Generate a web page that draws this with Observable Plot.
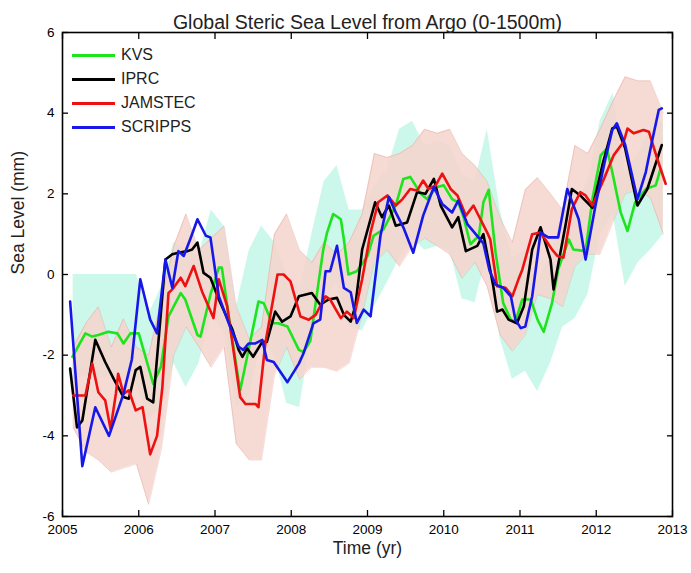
<!DOCTYPE html>
<html>
<head>
<meta charset="utf-8">
<script src="https://cdn.jsdelivr.net/npm/d3@7"></script>
<script src="https://cdn.jsdelivr.net/npm/@observablehq/plot@0.6"></script>
<style>
  html, body { margin: 0; padding: 0; background: #fff; }
  #wrap { position: relative; width: 691px; height: 573px; font-family: "Liberation Sans", Arial, sans-serif; }
  #legend { position: absolute; left: 72px; top: 43px; }
  .row { display: flex; align-items: center; height: 24px; font-size: 16px; color: #222; }
  .sw { width: 43px; height: 3px; margin-right: 6px; }
</style>
</head>
<body>
<div id="wrap"><div id="legend"></div></div>
<script>
// ---- text ----
const titleText = "Global Steric Sea Level from Argo (0-1500m)";
const xLabel = "Time (yr)";
const yLabel = "Sea Level (mm)";
const xTicks = [2005, 2006, 2007, 2008, 2009, 2010, 2011, 2012, 2013];
const yTicks = [-6, -4, -2, 0, 2, 4, 6];

// ---- series (vertices) ----
const seriesNames = ["KVS", "IPRC", "JAMSTEC", "SCRIPPS"];
const seriesColors = ["#1ee41e", "#000000", "#ee1111", "#1717e8"];

const kvsTime = [2005.13,2005.30,2005.39,2005.47,2005.60,2005.72,2005.80,2005.89,2006.00,2006.19,2006.29,2006.39,2006.55,2006.61,2006.77,2006.81,2006.94,2007.05,2007.09,2007.18,2007.33,2007.44,2007.57,2007.64,2007.75,2007.83,2007.95,2008.10,2008.16,2008.25,2008.36,2008.42,2008.47,2008.55,2008.65,2008.69,2008.75,2008.86,2009.00,2009.08,2009.21,2009.37,2009.47,2009.56,2009.70,2009.78,2009.91,2010.00,2010.11,2010.19,2010.26,2010.35,2010.46,2010.52,2010.59,2010.68,2010.78,2010.88,2010.94,2011.03,2011.14,2011.23,2011.31,2011.42,2011.50,2011.64,2011.70,2011.86,2011.95,2012.06,2012.14,2012.21,2012.32,2012.41,2012.51,2012.65,2012.78,2012.84];
const kvsValue = [-2.04,-1.46,-1.54,-1.5,-1.42,-1.46,-1.71,-1.46,-1.46,-2.71,-2.29,-1.04,-0.46,-0.62,-1.5,-1.54,-0.5,0.17,0.17,-1.04,-2.87,-1.87,-0.67,-0.71,-1.21,-1.21,-1.29,-1.87,-1.92,-1.65,-0.17,0.62,1.04,1.5,1.37,0.87,0.0,0.08,0.46,0.96,1.12,1.71,2.37,2.42,2.0,1.87,2.17,2.21,1.87,1.79,1.42,0.75,0.96,1.79,2.1,0.54,-0.71,-1.12,-1.17,-0.62,-0.62,-1.12,-1.42,-0.71,0.12,0.87,0.62,0.58,1.87,2.96,3.12,2.54,1.54,1.08,1.79,2.12,2.21,2.6];

const iprcTime = [2005.10,2005.19,2005.26,2005.43,2005.56,2005.67,2005.80,2005.87,2005.96,2006.02,2006.11,2006.19,2006.35,2006.44,2006.52,2006.64,2006.70,2006.77,2006.85,2006.94,2007.05,2007.23,2007.31,2007.36,2007.42,2007.50,2007.62,2007.68,2007.79,2007.88,2007.99,2008.10,2008.27,2008.38,2008.49,2008.60,2008.69,2008.78,2008.84,2008.93,2009.10,2009.19,2009.28,2009.37,2009.52,2009.65,2009.76,2009.87,2009.96,2010.11,2010.19,2010.29,2010.44,2010.52,2010.65,2010.70,2010.77,2010.85,2010.96,2011.05,2011.16,2011.27,2011.40,2011.44,2011.60,2011.68,2011.79,2011.95,2012.08,2012.21,2012.27,2012.38,2012.54,2012.67,2012.86];
const iprcValue = [-2.33,-3.79,-3.62,-1.62,-2.17,-2.58,-3.04,-3.08,-2.37,-2.29,-3.08,-3.17,0.37,0.5,0.54,0.58,0.62,0.79,0.04,-0.08,-0.62,-1.37,-1.87,-2.04,-1.83,-2.04,-1.67,-1.67,-0.92,-1.17,-1.04,-0.54,-0.46,-0.75,-0.62,-0.58,-1.0,-1.17,-0.79,0.62,1.79,1.42,1.71,1.21,1.29,2.04,2.0,2.37,1.71,1.17,1.42,0.58,0.71,1.0,-0.29,-0.92,-0.87,-1.12,-1.21,-0.79,0.62,1.17,0.37,-0.37,1.25,2.12,1.96,1.65,2.71,3.62,3.67,3.12,1.71,2.12,3.21];

const jamstecTime = [2005.14,2005.30,2005.39,2005.47,2005.56,2005.63,2005.70,2005.73,2005.80,2005.87,2005.96,2006.05,2006.15,2006.24,2006.31,2006.39,2006.44,2006.55,2006.61,2006.72,2006.83,2006.98,2007.05,2007.16,2007.33,2007.40,2007.53,2007.57,2007.66,2007.82,2007.90,2007.99,2008.12,2008.23,2008.32,2008.45,2008.51,2008.65,2008.73,2008.82,2008.93,2009.04,2009.14,2009.26,2009.37,2009.46,2009.56,2009.65,2009.73,2009.80,2009.89,2009.98,2010.09,2010.18,2010.29,2010.39,2010.57,2010.61,2010.70,2010.81,2010.90,2010.98,2011.03,2011.16,2011.27,2011.42,2011.49,2011.57,2011.68,2011.79,2011.86,2011.95,2012.10,2012.23,2012.36,2012.41,2012.49,2012.62,2012.69,2012.80,2012.91];
const jamstecValue = [-3.0,-3.0,-2.21,-2.92,-3.12,-3.83,-2.96,-2.46,-2.96,-2.87,-3.37,-3.29,-4.46,-4.0,-2.79,-0.46,-0.37,-0.08,-0.29,0.21,-0.42,-1.08,-0.12,-0.79,-3.04,-3.21,-3.21,-3.29,-1.71,0.0,0.0,-0.17,-1.04,-1.12,-1.0,-0.54,-0.62,-1.08,-0.92,-1.08,-0.12,1.04,1.79,1.96,1.71,1.87,2.12,2.08,2.33,2.12,2.2,2.5,2.12,1.96,1.46,1.71,1.04,0.87,-0.29,-0.33,-0.54,-0.12,0.12,1.0,1.04,0.62,0.46,0.42,1.62,2.04,1.96,1.71,2.37,2.96,3.29,3.62,3.5,3.58,3.54,2.87,2.25];

const scrippsTime = [2005.10,2005.26,2005.43,2005.61,2005.80,2005.91,2006.02,2006.15,2006.24,2006.35,2006.44,2006.52,2006.59,2006.68,2006.77,2006.88,2006.94,2007.05,2007.18,2007.31,2007.37,2007.44,2007.53,2007.62,2007.68,2007.77,2007.95,2008.10,2008.16,2008.29,2008.38,2008.45,2008.51,2008.60,2008.69,2008.78,2008.86,2008.95,2009.04,2009.17,2009.28,2009.37,2009.47,2009.60,2009.73,2009.87,2009.98,2010.11,2010.19,2010.31,2010.52,2010.60,2010.68,2010.78,2010.88,2010.94,2011.01,2011.07,2011.16,2011.27,2011.37,2011.50,2011.62,2011.77,2011.86,2011.99,2012.12,2012.21,2012.27,2012.38,2012.54,2012.65,2012.73,2012.82,2012.86];
const scrippsValue = [-0.67,-4.75,-3.29,-4.0,-2.96,-2.1,-0.12,-1.12,-1.46,0.37,-0.33,0.58,0.46,0.9,1.37,0.96,0.92,-0.54,-1.21,-1.79,-1.87,-1.71,-1.71,-1.62,-2.12,-2.17,-2.67,-2.21,-1.96,-1.21,-1.12,0.08,0.08,0.71,-0.33,-0.44,-1.2,-0.87,-1.04,0.96,1.92,1.54,1.17,0.54,1.46,2.17,1.75,1.54,1.83,1.25,0.77,0.1,-0.25,-0.33,-0.54,-1.12,-1.33,-1.29,-0.54,1.04,0.92,0.92,2.12,1.37,0.37,1.71,2.87,3.58,3.75,3.21,1.87,2.54,3.29,4.08,4.12];

// ---- uncertainty envelopes ----
const bandTime = [2005.14,2005.31,2005.47,2005.64,2005.80,2005.97,2006.13,2006.30,2006.46,2006.62,2006.79,2006.95,2007.12,2007.28,2007.45,2007.61,2007.78,2007.94,2008.11,2008.27,2008.43,2008.60,2008.76,2008.93,2009.09,2009.26,2009.42,2009.59,2009.75,2009.92,2010.08,2010.24,2010.41,2010.57,2010.74,2010.90,2011.07,2011.23,2011.40,2011.56,2011.72,2011.89,2012.05,2012.22,2012.38,2012.55,2012.71,2012.88];
const pinkHigh = [-1.8,-1.2,-0.8,-1.8,-1.1,-1.8,-2.0,-0.6,0.7,1.5,0.6,0.9,1.2,-0.8,-1.6,-1.3,1.0,1.5,0.6,0.3,0.8,0.5,0.8,1.5,3.0,2.9,3.0,3.2,3.6,3.5,3.6,3.0,2.7,2.3,1.4,0.8,2.1,2.4,2.0,1.6,3.2,3.0,3.6,4.3,4.9,4.8,4.8,4.0];
const pinkLow = [-3.8,-4.4,-4.6,-4.9,-4.8,-4.7,-5.7,-4.3,-2.0,-1.3,-1.8,-2.3,-1.8,-4.2,-4.6,-4.6,-2.5,-1.8,-2.6,-2.3,-2.3,-2.4,-2.2,-1.0,0.3,0.6,0.2,0.7,0.9,0.7,0.5,-0.1,0.3,-0.3,-1.5,-1.9,-1.5,-0.5,-0.6,-0.8,0.2,0.5,0.5,1.3,2.0,2.1,1.9,1.0];
const cyanHigh = [0.0,0.0,0.0,0.0,0.0,0.0,-1.0,-0.3,0.8,0.6,0.5,1.6,1.2,-0.8,0.6,1.2,0.8,0.0,-0.4,1.0,2.3,2.7,1.6,1.6,2.2,2.6,3.6,3.8,3.2,3.3,3.2,2.5,2.3,3.6,1.6,0.4,0.6,-0.2,0.5,1.5,1.7,2.3,3.8,4.5,2.5,3.0,3.6,3.8];
const cyanLow = [-2.6,-2.5,-2.6,-2.5,-2.6,-2.7,-3.6,-3.3,-2.2,-2.8,-2.2,-1.0,-1.4,-3.3,-3.0,-1.6,-2.0,-3.2,-3.3,-1.4,-0.6,-0.2,-1.3,-1.4,-0.8,-0.2,0.4,0.9,0.6,0.7,0.6,-0.6,-0.7,0.5,-1.6,-2.6,-2.4,-2.9,-2.2,-1.3,-1.1,-0.5,1.0,1.5,-0.3,0.3,0.6,1.0];

// ---- build tables ----
const seriesTimes = [kvsTime, iprcTime, jamstecTime, scrippsTime];
const seriesValues = [kvsValue, iprcValue, jamstecValue, scrippsValue];
const lines = seriesNames.map((name, i) =>
  seriesTimes[i].map((t, j) => ({name, t, v: seriesValues[i][j]})));
const band = bandTime.map((t, i) => ({t, pl: pinkLow[i], ph: pinkHigh[i], cl: cyanLow[i], ch: cyanHigh[i]}));

const font = "Liberation Sans, Arial, sans-serif";
const tk = 6; // inward tick length in px

const chart = Plot.plot({
  width: 691,
  height: 573,
  marginLeft: 62,
  marginRight: 19,
  marginTop: 32,
  marginBottom: 57,
  style: {fontFamily: font, fontSize: "13.5px", background: "white", color: "black"},
  x: {domain: [2005, 2013]},
  y: {domain: [-6, 6]},
  marks: [
    Plot.areaY(band, {x: "t", y1: "cl", y2: "ch", fill: "#8ff0d2", fillOpacity: 0.45}),
    Plot.areaY(band, {x: "t", y1: "pl", y2: "ph", fill: "#f4d3cc", fillOpacity: 0.85}),
    Plot.line(band, {x: "t", y: "ph", stroke: "#d98a80", strokeOpacity: 0.3, strokeWidth: 1}),
    Plot.line(band, {x: "t", y: "pl", stroke: "#d98a80", strokeOpacity: 0.3, strokeWidth: 1}),
    ...lines.map((data, i) => Plot.line(data, {x: "t", y: "v", stroke: seriesColors[i], strokeWidth: 2.6, strokeLinejoin: "round"})),
    Plot.frame({stroke: "black", strokeWidth: 1.6}),
    // inward ticks on all four sides
    Plot.axisX({anchor: "bottom", ticks: xTicks, tickSize: tk, dy: -tk, tickFormat: () => "", label: null, strokeWidth: 1.3}),
    Plot.axisX({anchor: "top", ticks: xTicks, tickSize: tk, dy: tk, tickFormat: () => "", label: null, strokeWidth: 1.3}),
    Plot.axisY({anchor: "left", ticks: yTicks, tickSize: tk, dx: tk, tickFormat: () => "", label: null, strokeWidth: 1.3}),
    Plot.axisY({anchor: "right", ticks: yTicks, tickSize: tk, dx: -tk, tickFormat: () => "", label: null, strokeWidth: 1.3}),
    // tick labels
    Plot.axisX({anchor: "bottom", ticks: xTicks, tickSize: 0, tickPadding: 8, tickFormat: d => String(d), label: null, fontSize: 13.5}),
    Plot.axisY({anchor: "left", ticks: yTicks, tickSize: 0, tickPadding: 8, tickFormat: d => String(d), label: null, fontSize: 13.5}),
    Plot.text([titleText], {text: d => d, frameAnchor: "top", dy: -17, fontSize: 19.5, fill: "#222"}),
    Plot.text([xLabel], {text: d => d, frameAnchor: "bottom", dy: 37, fontSize: 17.5, fill: "#222"}),
    Plot.text([yLabel], {text: d => d, frameAnchor: "left", dx: -44, rotate: -90, fontSize: 17.5, fill: "#222"})
  ]
});
document.getElementById("wrap").prepend(chart);

// legend
const legend = document.getElementById("legend");
seriesNames.forEach((name, i) => {
  const row = document.createElement("div");
  row.className = "row";
  const sw = document.createElement("span");
  sw.className = "sw";
  sw.style.background = seriesColors[i];
  const lab = document.createElement("span");
  lab.textContent = name;
  row.appendChild(sw);
  row.appendChild(lab);
  legend.appendChild(row);
});
</script>
</body>
</html>
